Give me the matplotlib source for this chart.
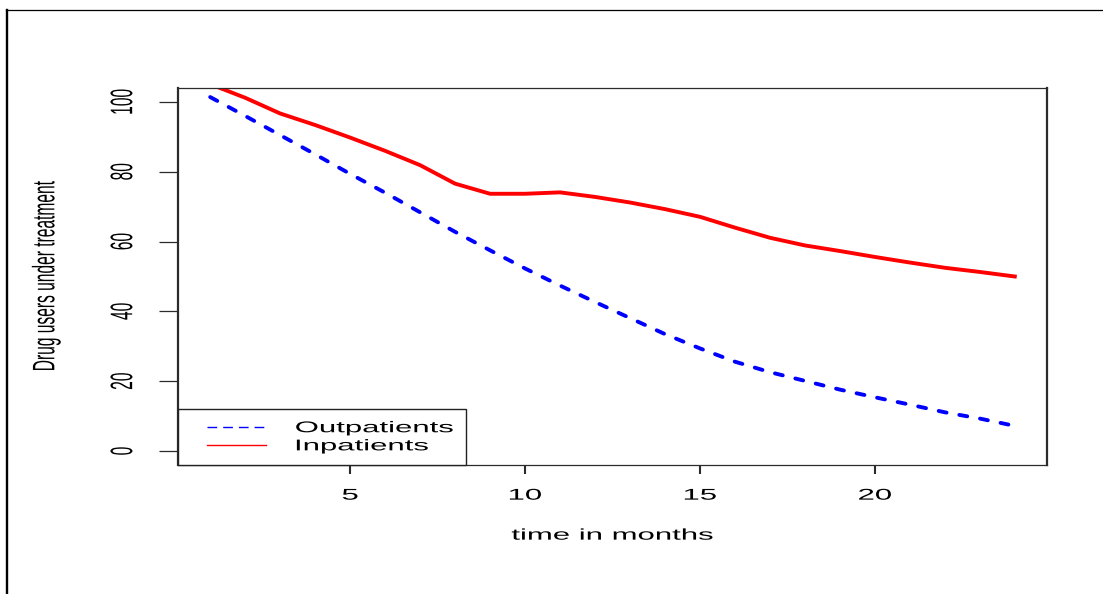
import matplotlib
matplotlib.use("Agg")
import matplotlib.pyplot as plt
from matplotlib.lines import Line2D
from matplotlib.legend_handler import HandlerLine2D
from matplotlib.patheffects import AbstractPathEffect
from matplotlib.transforms import Affine2D

# drug users still in treatment, per month
months = list(range(1, 25))
outpatients = [101.4, 96.0, 90.5, 85.0, 79.4, 74.0, 68.4, 62.8, 57.5, 52.3, 47.4, 42.7,
               38.1, 33.5, 29.4, 25.6, 22.6, 20.1, 17.6, 15.4, 13.3, 11.1, 9.3, 7.2]
inpatients = [105.1, 101.2, 96.7, 93.4, 89.8, 86.0, 81.9, 76.6, 73.7, 73.7, 74.1, 72.8,
              71.2, 69.3, 67.1, 64.0, 61.1, 58.9, 57.3, 55.6, 54.0, 52.5, 51.3, 50.0]
series_names = ["Outpatients", "Inpatients"]
x_ticks = [5, 10, 15, 20]
y_ticks = [0, 20, 40, 60, 80, 100]


class Widen(AbstractPathEffect):
    """Stretch text glyphs sideways around their centre (or left edge)."""

    def __init__(self, factor=2.0, pivot="center"):
        super().__init__()
        self.factor = factor
        self.pivot = pivot

    def draw_path(self, renderer, gc, tpath, affine, rgbFace=None):
        ext = tpath.get_extents(affine)
        px = ext.x0 if self.pivot == "left" else 0.5 * (ext.x0 + ext.x1)
        wide = Affine2D().translate(-px, 0).scale(self.factor, 1).translate(px, 0)
        renderer.draw_path(gc, tpath, affine + wide, rgbFace)


plt.rcParams["font.family"] = ["Liberation Sans", "DejaVu Sans"]
plt.rcParams["font.size"] = 11.2

W, H = 1103, 594
fig = plt.figure(figsize=(W / 100, H / 100), dpi=100)
ax = fig.add_axes([178 / W, 1 - 465 / H, (1047 - 178) / W, (465 - 88) / H])

# outer frame (top and left edges only)
fig.add_artist(Line2D([7 / W, 7 / W], [0, 1 - 9.5 / H], transform=fig.transFigure,
                      color="black", lw=1.7))
fig.add_artist(Line2D([6 / W, 1], [1 - 9.5 / H, 1 - 9.5 / H], transform=fig.transFigure,
                      color="black", lw=0.9))

ax.plot(months, outpatients, color="#0000ff", lw=2.8, dashes=(2.06, 3.34),
        dash_capstyle="round")
ax.plot(months, inpatients, color="#ff0000", lw=2.8, solid_joinstyle="round")

ax.set_xlim(0.08, 24.92)
ax.set_ylim(-4, 104)

for side in ["left", "right"]:
    ax.spines[side].set_linewidth(1.6)
for side in ["top", "bottom"]:
    ax.spines[side].set_linewidth(0.9)
for sp in ax.spines.values():
    sp.set_color("#2b2b2b")

ax.set_xticks(x_ticks)
ax.set_yticks(y_ticks)
ax.tick_params(axis="x", length=6.5, width=1.5, pad=9.8, color="#2b2b2b")
ax.tick_params(axis="y", length=13.7, width=0.9, pad=21, labelrotation=90, color="#2b2b2b")
for lbl in ax.get_yticklabels():
    lbl.set_va("center")
for lbl in ax.get_xticklabels() + ax.get_yticklabels():
    lbl.set_path_effects([Widen(2.0)])

ax.set_xlabel("time in months", labelpad=18)
ax.set_ylabel("Drug users under treatment")
ax.yaxis.set_label_coords(-0.1435, 0.5)
ax.xaxis.label.set_path_effects([Widen(2.0)])
ax.yaxis.label.set_path_effects([Widen(2.0)])

h_out = Line2D([], [], color="#0000ff", lw=1.0, dashes=(7, 4.3))
h_in = Line2D([], [], color="#ff0000", lw=1.0)
leg = ax.legend([h_out, h_in], series_names, loc="lower left",
                bbox_to_anchor=(0, 0, 0.3314, 0.2), mode="expand", borderaxespad=0,
                borderpad=0.75, labelspacing=0.2, handlelength=6.0, handletextpad=0.8,
                fancybox=False, framealpha=1, edgecolor="#222222",
                handler_map={Line2D: HandlerLine2D(marker_pad=1.12, numpoints=2)})
leg.get_frame().set_linewidth(1.0)
for t in leg.get_texts():
    t.set_path_effects([Widen(2.0, pivot="left")])

fig.savefig("out.png", dpi=100)
